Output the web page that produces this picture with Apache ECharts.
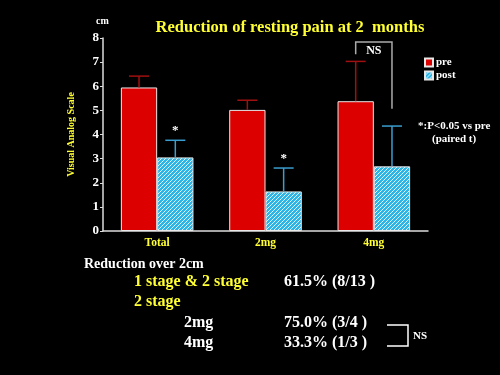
<!DOCTYPE html>
<html><head><meta charset="utf-8">
<script src="https://cdn.jsdelivr.net/npm/echarts@6/dist/echarts.min.js"></script>
<style>html,body{margin:0;padding:0;background:#000}#c{width:500px;height:375px}</style>
</head><body><div id="c"></div>
<script>
const categories = ['Total', '2mg', '4mg'];
const preMean = [5.95, 5.02, 5.38];
const preErrTop = [6.42, 5.42, 7.03];
const postMean = [3.05, 1.64, 2.68];
const postErrTop = [3.76, 2.61, 4.35];
const postSig = ['*', '*', ''];
const yTicks = [0, 1, 2, 3, 4, 5, 6, 7, 8];
const nsBracket = {cat: 2, top: 7.83, leftBottom: 7.33, rightBottom: 5.07};

const serif = '"Liberation Serif","Times New Roman",serif';
const yellow = '#ffff33';

// hatched pattern for post bars
const pc = document.createElement('canvas');
pc.width = 4; pc.height = 4;
const g = pc.getContext('2d');
g.fillStyle = '#2fb4e6'; g.fillRect(0, 0, 4, 4);
g.fillStyle = '#d8f4ff';
for (let i = 0; i < 4; i++) { g.fillRect(i, 3 - i, 1, 1); }
const hatch = {image: pc, repeat: 'repeat'};

const catGap = 0.33;
function barInfo(api, idx, which) {
  const c = api.coord([idx, 0]);
  const bandW = api.size([1, 0])[0];
  const bw = bandW * (1 - catGap) / 2;
  const cx = which === 0 ? c[0] - bw / 2 : c[0] + bw / 2;
  return {cx, bw};
}

function errSeries(name, means, tops, which, color, sig) {
  return {
    type: 'custom', name: name + 'err', silent: true, z: 5,
    data: means.map((m, i) => [i, m, tops[i]]),
    renderItem: function (params, api) {
      const i = api.value(0);
      const {cx} = barInfo(api, i, which);
      const yb = api.coord([i, api.value(1)])[1];
      const yt = api.coord([i, api.value(2)])[1];
      const cap = 10;
      const children = [
        {type: 'line', shape: {x1: cx, y1: yb, x2: cx, y2: yt}, style: {stroke: color, lineWidth: 1.5}},
        {type: 'line', shape: {x1: cx - cap, y1: yt, x2: cx + cap, y2: yt}, style: {stroke: color, lineWidth: 1.5}}
      ];
      if (sig && sig[i]) {
        children.push({type: 'text', style: {text: sig[i], x: cx, y: yt - 3, align: 'center', verticalAlign: 'bottom', fill: '#fff', font: 'bold 13px ' + serif}});
      }
      return {type: 'group', children};
    }
  };
}

const chart = echarts.init(document.getElementById('c'));
chart.setOption({
  backgroundColor: '#000',
  animation: false,
  title: {
    text: 'Reduction of resting pain at 2  months', left: 285, top: 14, textAlign: 'center',
    textStyle: {color: yellow, fontFamily: serif, fontWeight: 'bold', fontSize: 16.5}
  },
  legend: {
    orient: 'vertical', left: 419, top: 52, itemWidth: 8, itemHeight: 8, itemGap: 2,
    icon: 'rect', data: ['pre', 'post'],
    textStyle: {color: '#fff', fontFamily: serif, fontWeight: 'bold', fontSize: 11, padding: [0, 0, 0, -2]}
  },
  grid: {left: 103, right: 72, top: 38, bottom: 144},
  xAxis: {
    type: 'category', data: categories,
    axisLine: {lineStyle: {color: '#ddd', width: 1.5}},
    axisTick: {show: false},
    axisLabel: {color: yellow, fontFamily: serif, fontWeight: 'bold', fontSize: 11.5, margin: 6}
  },
  yAxis: {
    type: 'value', min: 0, max: 8, interval: 1,
    name: 'Visual Analog Scale', nameLocation: 'middle', nameGap: 27, nameRotate: 90,
    nameTextStyle: {color: yellow, fontFamily: serif, fontWeight: 'bold', fontSize: 10},
    axisLine: {show: true, lineStyle: {color: '#ddd', width: 1.5}},
    axisTick: {show: true, length: 3, lineStyle: {color: '#ddd'}},
    splitLine: {show: false},
    axisLabel: {color: '#fff', fontFamily: serif, fontWeight: 'bold', fontSize: 13, margin: 4,
      formatter: v => yTicks.includes(v) ? String(v) : ''}
  },
  graphic: [
    {type: 'text', left: 96, top: 16, style: {text: 'cm', fill: '#fff', font: 'bold 10px ' + serif}},
    {type: 'text', left: 418, top: 121, style: {text: '*:P<0.05 vs pre', fill: '#fff', font: 'bold 11px ' + serif}},
    {type: 'text', left: 432, top: 134, style: {text: '(paired t)', fill: '#fff', font: 'bold 11px ' + serif}},
    {type: 'text', left: 84, top: 257, style: {text: 'Reduction over 2cm', fill: '#fff', font: 'bold 14px ' + serif}},
    {type: 'text', left: 134, top: 274, style: {text: '1 stage & 2 stage', fill: yellow, font: 'bold 16px ' + serif}},
    {type: 'text', left: 284, top: 274, style: {text: '61.5% (8/13 )', fill: '#fff', font: 'bold 16px ' + serif}},
    {type: 'text', left: 134, top: 294, style: {text: '2 stage', fill: yellow, font: 'bold 16px ' + serif}},
    {type: 'text', left: 184, top: 315, style: {text: '2mg', fill: '#fff', font: 'bold 16px ' + serif}},
    {type: 'text', left: 284, top: 315, style: {text: '75.0% (3/4 )', fill: '#fff', font: 'bold 16px ' + serif}},
    {type: 'text', left: 184, top: 335, style: {text: '4mg', fill: '#fff', font: 'bold 16px ' + serif}},
    {type: 'text', left: 284, top: 335, style: {text: '33.3% (1/3 )', fill: '#fff', font: 'bold 16px ' + serif}},
    {type: 'polyline', shape: {points: [[387, 325], [408, 325], [408, 346], [387, 346]]}, style: {stroke: '#fff', lineWidth: 1.5, fill: null}},
    {type: 'text', left: 413, top: 331, style: {text: 'NS', fill: '#fff', font: 'bold 11px ' + serif}}
  ],
  series: [
    {name: 'pre', type: 'bar', data: preMean, barGap: '0%', barCategoryGap: '33%',
      itemStyle: {color: '#dd0000', borderColor: '#e8e8e8', borderWidth: 1}},
    {name: 'post', type: 'bar', data: postMean,
      itemStyle: {color: hatch, borderColor: '#e8e8e8', borderWidth: 1}},
    errSeries('pre', preMean, preErrTop, 0, '#a01010', null),
    errSeries('post', postMean, postErrTop, 1, '#3a9ed0', postSig),
    {
      type: 'custom', silent: true, z: 6,
      data: [[nsBracket.cat, nsBracket.top, nsBracket.leftBottom, nsBracket.rightBottom]],
      renderItem: function (params, api) {
        const i = api.value(0);
        const l = barInfo(api, i, 0).cx, r = barInfo(api, i, 1).cx;
        const yt = api.coord([i, api.value(1)])[1];
        const yl = api.coord([i, api.value(2)])[1];
        const yr = api.coord([i, api.value(3)])[1];
        return {type: 'group', children: [
          {type: 'polyline', shape: {points: [[l, yl], [l, yt], [r, yt], [r, yr]]}, style: {stroke: '#aaa', lineWidth: 1.5, fill: null}},
          {type: 'text', style: {text: 'NS', x: (l + r) / 2, y: yt + 3, align: 'center', verticalAlign: 'top', fill: '#fff', font: 'bold 12px ' + serif}}
        ]};
      }
    }
  ]
});
</script></body></html>
